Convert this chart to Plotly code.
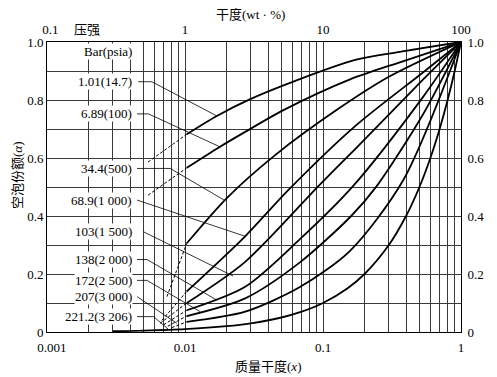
import numpy as np
import plotly.graph_objects as go

# ---------------- data ----------------
pressure_labels = ["1.01(14.7)", "6.89(100)", "34.4(500)", "68.9(1 000)", "103(1 500)",
                   "138(2 000)", "172(2 500)", "207(3 000)", "221.2(3 206)"]

# solid curves: quality x, void fraction alpha
p1_x = [0.0103, 0.017, 0.0297, 0.063, 0.171, 0.36, 1.0]
p1_a = [0.682, 0.745, 0.803, 0.866, 0.938, 0.966, 1.0]
p2_x = [0.0103, 0.017, 0.0273, 0.0517, 0.157, 0.36, 1.0]
p2_a = [0.566, 0.632, 0.69, 0.765, 0.871, 0.93, 1.0]
p3_x = [0.0103, 0.0201, 0.045, 0.126, 0.30, 1.0]
p3_a = [0.306, 0.462, 0.61, 0.766, 0.88, 1.0]
p4_x = [0.0103, 0.0273, 0.0562, 0.171, 0.53, 1.0]
p4_a = [0.140, 0.330, 0.490, 0.710, 0.895, 1.0]
p5_x = [0.0103, 0.0273, 0.0926, 0.171, 0.53, 1.0]
p5_a = [0.100, 0.242, 0.503, 0.631, 0.87, 1.0]
p6_x = [0.0103, 0.0273, 0.068, 0.165, 0.53, 1.0]
p6_a = [0.075, 0.156, 0.32, 0.503, 0.81, 1.0]
p7_x = [0.0103, 0.0273, 0.068, 0.16, 0.245, 0.53, 1.0]
p7_a = [0.055, 0.116, 0.24, 0.40, 0.503, 0.75, 1.0]
p8_x = [0.0103, 0.0273, 0.068, 0.157, 0.382, 1.0]
p8_a = [0.035, 0.070, 0.155, 0.28, 0.524, 1.0]
p9_x = [0.003, 0.005, 0.01, 0.02, 0.03, 0.05, 0.07, 0.1, 0.15, 0.2, 0.3, 0.4, 0.5, 0.6, 0.7, 0.8, 0.9, 1.0]
p9_a = [0.003, 0.005, 0.01, 0.02, 0.03, 0.05, 0.07, 0.1, 0.15, 0.2, 0.3, 0.4, 0.5, 0.6, 0.7, 0.8, 0.9, 1.0]

# dashed extrapolations
d1_x, d1_a = [0.0054, 0.0103], [0.586, 0.682]
d2_x, d2_a = [0.0054, 0.0103], [0.472, 0.566]
d3_x, d3_a = [0.0074, 0.0103], [0.122, 0.306]
d4_x, d4_a = [0.0068, 0.0103], [0.040, 0.140]
d5_x, d5_a = [0.0066, 0.0103], [0.030, 0.100]
d6_x, d6_a = [0.0070, 0.0103], [0.025, 0.075]
d7_x, d7_a = [0.0075, 0.0103], [0.020, 0.055]
d8_x, d8_a = [0.0080, 0.0103], [0.015, 0.035]

# label positions (alpha) and leader lines (x, alpha)
label_alpha = [0.863, 0.752, 0.564, 0.455, 0.346, 0.250, 0.178, 0.122, 0.053]
label_x = 0.0042
header_alpha = 0.966

lead1_x, lead1_a = [0.00458, 0.00575, 0.0170], [0.863, 0.863, 0.745]
lead2_x, lead2_a = [0.00449, 0.00544, 0.0180], [0.752, 0.752, 0.638]
lead3_x, lead3_a = [0.00449, 0.00782, 0.0192], [0.564, 0.564, 0.455]
lead4_x, lead4_a = [0.00449, 0.0273], [0.455, 0.330]
lead5_x, lead5_a = [0.00498, 0.0223], [0.346, 0.193]
lead6_x, lead6_a = [0.00449, 0.00530, 0.0170], [0.250, 0.250, 0.110]
lead7_x, lead7_a = [0.00449, 0.00530, 0.0129], [0.178, 0.178, 0.070]
lead8_x, lead8_a = [0.00449, 0.00873], [0.122, 0.030]
lead9_x, lead9_a = [0.00449, 0.00592, 0.00755], [0.053, 0.053, 0.010]

bottom_ticks = [0.001, 0.01, 0.1, 1]
bottom_text = ["\u00a0\u00a0\u00a00.001", "0.01", "0.1", "1"]
top_ticks = [0.1, 1, 10, 100]
top_text = ["\u00a0\u00a00.1", "1", "10", "100"]
y_ticks = [0, 0.2, 0.4, 0.6, 0.8, 1.0]
y_text = ["0", "0.2", "0.4", "0.6", "0.8", "1.0"]

solid = [(p1_x, p1_a), (p2_x, p2_a), (p3_x, p3_a), (p4_x, p4_a), (p5_x, p5_a),
         (p6_x, p6_a), (p7_x, p7_a), (p8_x, p8_a), (p9_x, p9_a)]
dashed = [(d1_x, d1_a), (d2_x, d2_a), (d3_x, d3_a), (d4_x, d4_a), (d5_x, d5_a),
          (d6_x, d6_a), (d7_x, d7_a), (d8_x, d8_a)]
leaders = [(lead1_x, lead1_a), (lead2_x, lead2_a), (lead3_x, lead3_a), (lead4_x, lead4_a),
           (lead5_x, lead5_a), (lead6_x, lead6_a), (lead7_x, lead7_a), (lead8_x, lead8_a),
           (lead9_x, lead9_a)]

SERIF = "Liberation Serif"
MIXED = "Liberation Serif, Noto Sans CJK SC"

fig = go.Figure()

for lx, la in leaders:
    fig.add_trace(go.Scatter(x=lx, y=la, mode="lines", line=dict(color="black", width=0.8),
                             hoverinfo="skip", showlegend=False))
for dx, da in dashed:
    fig.add_trace(go.Scatter(x=dx, y=da, mode="lines", line=dict(color="black", width=1, dash="3px,2px"),
                             hoverinfo="skip", showlegend=False))
for sx, sa in solid:
    fig.add_trace(go.Scatter(x=sx, y=sa, mode="lines",
                             line=dict(color="black", width=1.8, shape="spline", smoothing=0.8),
                             hoverinfo="skip", showlegend=False))

# invisible trace for secondary axes
fig.add_trace(go.Scatter(x=[1, 100], y=[0, 1], xaxis="x2", yaxis="y2", mode="markers",
                         marker=dict(opacity=0), hoverinfo="skip", showlegend=False))

# grid tick sets
x_grid = [k * 10.0 ** e for e in (-3, -2, -1) for k in range(1, 10)] + [1.0]
x_grid_text = []
for v in x_grid:
    hit = [i for i, b in enumerate(bottom_ticks) if abs(b - v) < 1e-12]
    x_grid_text.append(bottom_text[hit[0]] if hit else "")
y_grid = [round(0.1 * i, 1) for i in range(11)]
y_grid_text = [y_text[y_ticks.index(v)] if v in y_ticks else "" for v in y_grid]

lab_font = dict(family=SERIF, size=13, color="black")
for i, lab in enumerate(pressure_labels):
    fig.add_annotation(x=np.log10(label_x), y=label_alpha[i], text=lab, showarrow=False,
                       xanchor="right", yanchor="middle", bgcolor="white",
                       font=lab_font, borderpad=0)
fig.add_annotation(x=np.log10(label_x), y=header_alpha, text="Bar(psia)", showarrow=False,
                   xanchor="right", yanchor="middle", bgcolor="white",
                   font=lab_font, borderpad=0)

txt_font = dict(family=MIXED, size=13, color="black")
common = dict(xref="paper", yref="paper", showarrow=False, xanchor="center", yanchor="middle", font=txt_font)
fig.add_annotation(x=(87 - 47) / 414, y=(332 - 30) / 290, text="压强", **common)
fig.add_annotation(x=(250 - 47) / 414, y=(332 - 14) / 290, text="干度(wt · %)", **common)
fig.add_annotation(x=(268 - 47) / 414, y=(332 - 366) / 290, text="质量干度(<i>x</i>)", **common)
fig.add_annotation(x=(17 - 47) / 414, y=(332 - 175) / 290, text="空泡份额(<i>α</i>)", textangle=-90, **common)

axis_font = dict(family=SERIF, size=13, color="black")
fig.update_layout(
    width=489, height=369,
    margin=dict(l=39, r=36, t=34, b=45, autoexpand=False),
    font=dict(family=SERIF),
    paper_bgcolor="white", plot_bgcolor="white",
    xaxis=dict(type="log", range=[-3, 0], tickmode="array", tickvals=x_grid, ticktext=x_grid_text,
               showgrid=True, gridcolor="#3a3a3a", gridwidth=1, zeroline=False,
               showline=True, linecolor="black", linewidth=1, ticks="", tickfont=axis_font,
               ticklabelstandoff=3),
    xaxis2=dict(type="log", range=[-1, 2], overlaying="x", side="top", anchor="y",
                tickmode="array", tickvals=top_ticks, ticktext=top_text, showgrid=False,
                showline=True, linecolor="black", linewidth=1, ticks="", tickfont=axis_font,
                ticklabelstandoff=2),
    yaxis=dict(range=[0, 1], tickmode="array", tickvals=y_grid, ticktext=y_grid_text,
               showgrid=True, gridcolor="#3a3a3a", gridwidth=1, zeroline=False,
               showline=True, linecolor="black", linewidth=1, ticks="", tickfont=axis_font),
    yaxis2=dict(range=[0, 1], overlaying="y", side="right", anchor="x", tickmode="array",
                tickvals=y_ticks, ticktext=y_text, showgrid=False, showline=True,
                linecolor="black", linewidth=1, ticks="", tickfont=axis_font,
                ticklabelstandoff=3),
    showlegend=False,
)

fig.write_html("out.html")
